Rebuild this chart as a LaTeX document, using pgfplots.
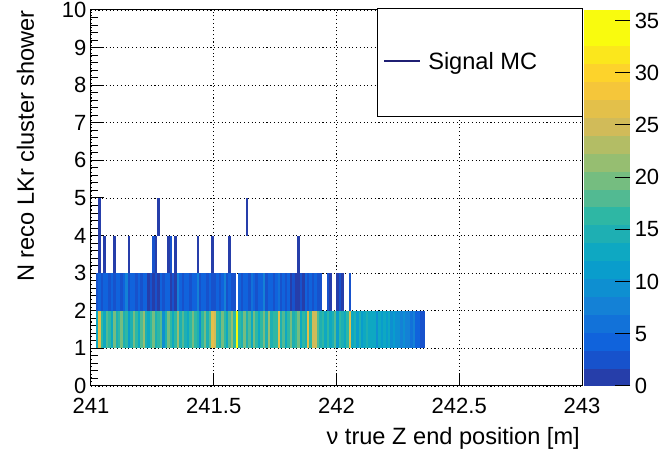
\documentclass[border=0pt]{standalone}
\usepackage{pgfplots}
\pgfplotsset{compat=1.18}
\usepackage{pgfplotstable}
\usepackage{fontspec}
\setmainfont{Liberation Sans}
\definecolor{legline}{rgb}{0.12,0.12,0.45}
\pgfdeclareplotmark{histbin}{\pgfpathrectangle{\pgfpoint{-0.95pt}{-14.1pt}}{\pgfpoint{1.9pt}{28.2pt}}\pgfusepathqfill}
\pgfplotsset{
  /pgf/number format/assume math mode=true,
  tick label style={font=\fontsize{16.5}{18}\selectfont},
  colormap={rootbird}{
    rgb=(0.1486,0.2438,0.6649) rgb=(0.0890,0.3212,0.8006) rgb=(0.0630,0.3887,0.8624)
    rgb=(0.0705,0.4464,0.8505) rgb=(0.0780,0.5041,0.8385) rgb=(0.0561,0.5592,0.8197)
    rgb=(0.0342,0.6143,0.8008) rgb=(0.0546,0.6571,0.7616) rgb=(0.1174,0.6874,0.7021)
    rgb=(0.1802,0.7178,0.6425) rgb=(0.3202,0.7304,0.5720) rgb=(0.4601,0.7429,0.5015)
    rgb=(0.5878,0.7459,0.4429) rgb=(0.7032,0.7394,0.3964) rgb=(0.8186,0.7328,0.3499)
    rgb=(0.8894,0.7542,0.2887) rgb=(0.9602,0.7755,0.2274) rgb=(0.9918,0.8256,0.1682)
    rgb=(0.9841,0.9044,0.1111) rgb=(0.9764,0.9832,0.0539) rgb=(0.9764,0.9832,0.0539)
  },
}
\pgfplotstableread{
x y v
241.025 1.5 12
241.035 1.5 26
241.045 1.5 17
241.055 1.5 13
241.065 1.5 18
241.075 1.5 16
241.085 1.5 12
241.095 1.5 19
241.105 1.5 15
241.115 1.5 17
241.125 1.5 20
241.135 1.5 14
241.145 1.5 16
241.155 1.5 11
241.165 1.5 15
241.175 1.5 19
241.185 1.5 17
241.195 1.5 13
241.205 1.5 18
241.215 1.5 21
241.225 1.5 15
241.235 1.5 12
241.245 1.5 17
241.255 1.5 19
241.265 1.5 14
241.275 1.5 16
241.285 1.5 18
241.295 1.5 10
241.305 1.5 15
241.315 1.5 19
241.325 1.5 17
241.335 1.5 13
241.345 1.5 16
241.355 1.5 21
241.365 1.5 14
241.375 1.5 18
241.385 1.5 15
241.395 1.5 12
241.405 1.5 17
241.415 1.5 19
241.425 1.5 16
241.435 1.5 14
241.445 1.5 10
241.455 1.5 17
241.465 1.5 20
241.475 1.5 15
241.485 1.5 18
241.495 1.5 26
241.505 1.5 25
241.515 1.5 16
241.525 1.5 14
241.535 1.5 19
241.545 1.5 17
241.555 1.5 13
241.565 1.5 18
241.575 1.5 21
241.585 1.5 16
241.595 1.5 35
241.605 1.5 17
241.615 1.5 14
241.625 1.5 19
241.635 1.5 15
241.645 1.5 18
241.655 1.5 13
241.665 1.5 20
241.675 1.5 16
241.685 1.5 12
241.695 1.5 17
241.705 1.5 19
241.715 1.5 15
241.725 1.5 21
241.735 1.5 14
241.745 1.5 17
241.755 1.5 16
241.765 1.5 26
241.775 1.5 15
241.785 1.5 18
241.795 1.5 13
241.805 1.5 17
241.815 1.5 20
241.825 1.5 14
241.835 1.5 16
241.845 1.5 19
241.855 1.5 12
241.865 1.5 17
241.875 1.5 15
241.885 1.5 27
241.895 1.5 16
241.905 1.5 24
241.915 1.5 24
241.925 1.5 18
241.935 1.5 14
241.945 1.5 16
241.955 1.5 12
241.965 1.5 17
241.975 1.5 13
241.985 1.5 15
241.995 1.5 18
242.005 1.5 11
242.015 1.5 16
242.025 1.5 14
242.035 1.5 13
242.045 1.5 17
242.055 1.5 26
242.065 1.5 12
242.075 1.5 15
242.085 1.5 11
242.095 1.5 14
242.105 1.5 11
242.115 1.5 13
242.125 1.5 15
242.135 1.5 12
242.145 1.5 13
242.155 1.5 12
242.165 1.5 10
242.175 1.5 13
242.185 1.5 11
242.195 1.5 13
242.205 1.5 11
242.215 1.5 12
242.225 1.5 10
242.235 1.5 11
242.245 1.5 9
242.255 1.5 10
242.265 1.5 8
242.275 1.5 9
242.285 1.5 7
242.295 1.5 8
242.305 1.5 6
242.315 1.5 7
242.325 1.5 5
242.335 1.5 4
242.345 1.5 3
242.355 1.5 2
241.025 2.5 2
241.035 2.5 4
241.045 2.5 3
241.055 2.5 4
241.065 2.5 5
241.075 2.5 3
241.085 2.5 4
241.095 2.5 3
241.105 2.5 4
241.115 2.5 5
241.125 2.5 3
241.135 2.5 4
241.145 2.5 7
241.155 2.5 3
241.165 2.5 4
241.175 2.5 5
241.185 2.5 3
241.195 2.5 4
241.205 2.5 3
241.215 2.5 5
241.225 2.5 4
241.235 2.5 1
241.245 2.5 2
241.255 2.5 1
241.265 2.5 2
241.275 2.5 1
241.285 2.5 4
241.295 2.5 3
241.305 2.5 5
241.315 2.5 4
241.325 2.5 1
241.335 2.5 2
241.345 2.5 1
241.355 2.5 7
241.365 2.5 4
241.375 2.5 3
241.385 2.5 5
241.395 2.5 4
241.405 2.5 3
241.415 2.5 4
241.425 2.5 5
241.435 2.5 7
241.445 2.5 3
241.455 2.5 4
241.465 2.5 5
241.475 2.5 3
241.485 2.5 4
241.495 2.5 3
241.505 2.5 2
241.515 2.5 4
241.525 2.5 3
241.535 2.5 5
241.545 2.5 7
241.555 2.5 3
241.565 2.5 4
241.575 2.5 2
241.585 2.5 3
241.605 2.5 4
241.615 2.5 3
241.625 2.5 5
241.635 2.5 4
241.645 2.5 3
241.655 2.5 6
241.665 2.5 4
241.675 2.5 3
241.685 2.5 5
241.695 2.5 4
241.705 2.5 7
241.715 2.5 3
241.725 2.5 4
241.735 2.5 5
241.745 2.5 3
241.755 2.5 4
241.765 2.5 6
241.775 2.5 3
241.785 2.5 4
241.795 2.5 3
241.805 2.5 4
241.815 2.5 1
241.825 2.5 2
241.835 2.5 1
241.845 2.5 1
241.855 2.5 2
241.865 2.5 1
241.875 2.5 4
241.885 2.5 3
241.895 2.5 5
241.905 2.5 3
241.915 2.5 4
241.925 2.5 2
241.935 2.5 3
241.965 2.5 2
241.975 2.5 1
242.005 2.5 1
242.015 2.5 2
242.025 2.5 1
242.055 2.5 2
241.035 3.5 1
241.055 3.5 1
241.095 3.5 1
241.155 3.5 1
241.255 3.5 2
241.265 3.5 1
241.315 3.5 1
241.325 3.5 2
241.345 3.5 1
241.435 3.5 1
241.495 3.5 1
241.565 3.5 1
241.845 3.5 1
241.035 4.5 1
241.275 4.5 1
241.635 4.5 1
}\histdata
\begin{document}
\begin{tikzpicture}
\begin{axis}[
  at={(0,0)}, anchor=south west,
  scale only axis, width=368.25pt, height=282pt,
  xmin=241, xmax=243, ymin=0, ymax=10,
  xtick={241,241.5,242,242.5,243},
  xticklabels={241,241.5,242,242.5,243},
  ytick={0,1,...,10},
  minor y tick num=4,
  xtick pos=bottom, ytick pos=left,
  tick align=inside,
  major tick length=10pt, minor tick length=5pt,
  tick style={black, line width=0.75pt},
  axis line style={black, line width=0.75pt},
  axis on top,
  grid=major,
  major grid style={black, line width=0.6pt, dash pattern=on 0.8pt off 2pt},
  xticklabel style={yshift=-5.5pt},
  colormap name=rootbird,
  colormap access=piecewise constant,
  point meta min=0, point meta max=36,
  colorbar,
  colorbar style={
    at={(parent axis.north east)}, anchor=north west, xshift=-7pt,
    scale only axis, width=34.5pt, height=282pt,
    ytick={0,5,...,35},
    tick align=inside, ytick pos=right, yticklabel pos=right,
    major tick length=11pt,
    axis line style={draw=none},
    tick style={black, line width=0.75pt},
    grid=none,
  },
  xlabel={ν true Z end position [m]},
  ylabel={N reco LKr cluster shower},
  xlabel style={at={(axis description cs:0.996,-0.1543)}, anchor=base east, inner sep=0pt, font=\fontsize{17.7}{20}\selectfont},
  ylabel style={at={(axis description cs:-0.1161,1.0)}, anchor=base east, inner sep=0pt, font=\fontsize{17.7}{20}\selectfont},
]
\addplot[scatter, only marks, mark=histbin, point meta=explicit] table[x=x, y=y, meta=v] {\histdata};
\end{axis}
\draw[black, line width=0.75pt, fill=white] (214.5pt,201.75pt) rectangle (368.25pt,282.75pt);
\draw[legline, line width=1.2pt] (219.75pt,243.75pt) -- (246.75pt,243.75pt);
\node[anchor=base west, inner sep=0pt, font=\fontsize{17.7}{20}\selectfont] at (252.75pt,237pt) {Signal MC};
\pgfresetboundingbox
\path[use as bounding box] (-68.25pt,-49.5pt) rectangle (430.5pt,289.5pt);
\end{tikzpicture}
\end{document}
